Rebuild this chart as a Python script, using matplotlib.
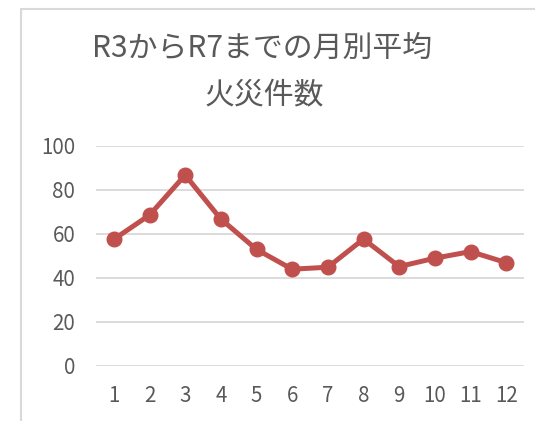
import matplotlib
matplotlib.use("Agg")
import matplotlib.pyplot as plt
from matplotlib.patches import Rectangle

plt.rcParams['font.family'] = ['Noto Sans CJK JP', 'DejaVu Sans']

months = [1, 2, 3, 4, 5, 6, 7, 8, 9, 10, 11, 12]
month_labels = [str(m) for m in months]
values = [57.6, 68.6, 86.8, 66.8, 53.0, 44.0, 44.9, 57.7, 45.2, 49.0, 52.0, 47.0]
y_ticks = [0, 20, 40, 60, 80, 100]
title_lines = ["R3からR7までの月別平均", "火災件数"]

W, H = 535, 421
fig = plt.figure(figsize=(W / 100, H / 100), dpi=100)
fig.patch.set_facecolor("white")

# chart border (cropped on right/bottom)
fig.patches.append(Rectangle((21 / W, -0.1), 1.2, 1 - 9 / H + 0.1, transform=fig.transFigure,
                             fill=False, edgecolor="#D9D9D9", linewidth=1.5))

ax = fig.add_axes([96 / W, 1 - 366 / H, (524 - 96) / W, (366 - 146) / H])
ax.set_xlim(0.5, 12.5)
ax.set_ylim(0, 100)
ax.plot(months, values, color="#C0504D", linewidth=3.6, marker="o", markersize=10.5,
        solid_capstyle="round", solid_joinstyle="round", zorder=3, clip_on=False)

ax.set_yticks(y_ticks)
ax.set_yticklabels([str(v) for v in y_ticks])
ax.set_xticks(months)
ax.set_xticklabels(month_labels)
ax.grid(axis="y", color="#D9D9D9", linewidth=1.3)
ax.set_axisbelow(True)
for s in ax.spines.values():
    s.set_visible(False)
ax.tick_params(axis="both", length=0, labelsize=14.8, labelcolor="#595959")
ax.tick_params(axis="y", pad=15)
ax.tick_params(axis="x", pad=14)

fig.text(262 / W, 1 - 48 / H, title_lines[0], ha="center", va="center", fontsize=21.5, color="#595959")
fig.text(264 / W, 1 - 95 / H, title_lines[1], ha="center", va="center", fontsize=21.5, color="#595959")

fig.savefig("out.png", dpi=100)
